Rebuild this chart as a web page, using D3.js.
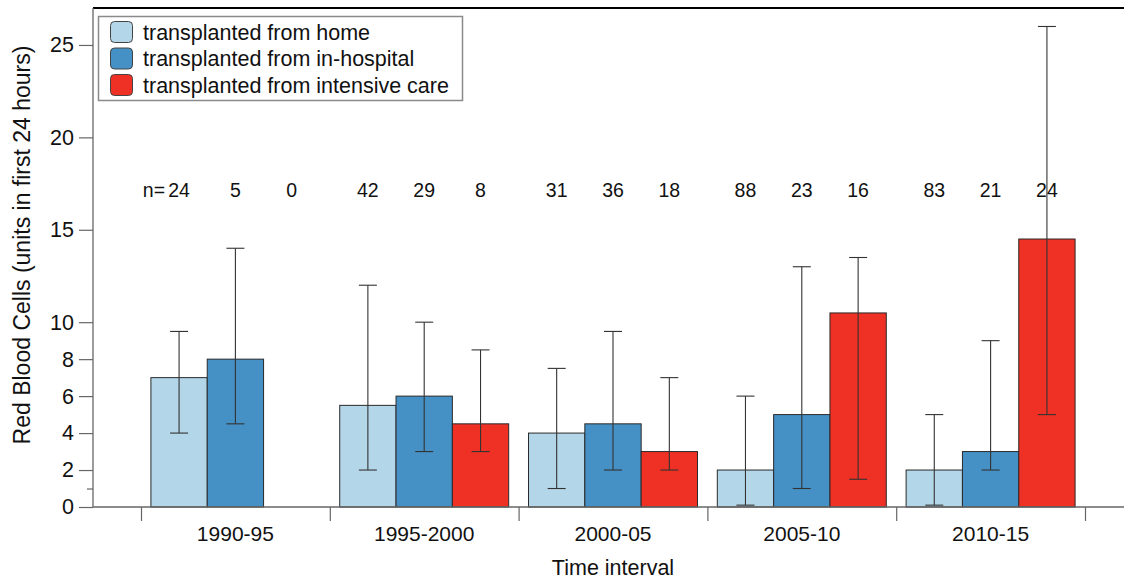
<!DOCTYPE html>
<html>
<head>
<meta charset="utf-8">
<script src="https://cdn.jsdelivr.net/npm/d3@7"></script>
<style>
  html, body { margin: 0; padding: 0; background: #fff; }
  svg { display: block; }
  text { font-family: "Liberation Sans", Arial, Helvetica, sans-serif; fill: #111; }
</style>
</head>
<body>
<svg id="chart" width="1124" height="581"></svg>
<script>
// ---------- data ----------
const intervals = ["1990-95", "1995-2000", "2000-05", "2005-10", "2010-15"];
const seriesNames = ["transplanted from home", "transplanted from in-hospital", "transplanted from intensive care"];
const seriesColors = ["#b3d6e8", "#4590c5", "#ee3124"];
// mean RBC units per series per interval; null = no patients
const homeValues     = [7.0, 5.5, 4.0, 2.0, 2.0];
const hospitalValues = [8.0, 6.0, 4.5, 5.0, 3.0];
const icuValues      = [null, 4.5, 3.0, 10.5, 14.5];
// error bar lower / upper
const homeLow      = [4.0, 2.0, 1.0, 0.1, 0.1];
const homeHigh     = [9.5, 12.0, 7.5, 6.0, 5.0];
const hospitalLow  = [4.5, 3.0, 2.0, 1.0, 2.0];
const hospitalHigh = [14.0, 10.0, 9.5, 13.0, 9.0];
const icuLow       = [null, 3.0, 2.0, 1.5, 5.0];
const icuHigh      = [null, 8.5, 7.0, 13.5, 26.0];
// patient counts
const homeN     = [24, 42, 31, 88, 83];
const hospitalN = [5, 29, 36, 23, 21];
const icuN      = [0, 8, 18, 16, 24];
const yTickValues = [0, 2, 4, 6, 8, 10, 15, 20, 25];
const yMinorTicks = [1];
const yTitle = "Red Blood Cells (units in first 24 hours)";
const xTitle = "Time interval";

const values = [homeValues, hospitalValues, icuValues];
const lows = [homeLow, hospitalLow, icuLow];
const highs = [homeHigh, hospitalHigh, icuHigh];
const counts = [homeN, hospitalN, icuN];

// ---------- layout ----------
const svg = d3.select("#chart");
const plotLeft = 93, plotTop = 8, plotBottom = 507;
const xStart = 141, xEnd = 1085;
const FONT = "'Liberation Sans', Arial, Helvetica, sans-serif";

const y = d3.scaleLinear().domain([0, 27]).range([plotBottom, plotTop]);
const xGroup = d3.scaleBand().domain(intervals).range([xStart, xEnd])
  .paddingInner(0.105).paddingOuter(0.0525);
const xSeries = d3.scaleBand().domain(d3.range(seriesNames.length))
  .range([0, xGroup.bandwidth()]).padding(0);
const xBound = d3.scaleLinear().domain([0, intervals.length]).range([xStart, xEnd]);

const axisColor = "#666";

const records = [];
intervals.forEach((g, gi) => {
  seriesNames.forEach((s, si) => {
    records.push({ g, gi, si, v: values[si][gi], lo: lows[si][gi], hi: highs[si][gi], n: counts[si][gi] });
  });
});

// bars
svg.append("g").selectAll("rect")
  .data(records.filter(d => d.v != null))
  .join("rect")
  .attr("x", d => xGroup(d.g) + xSeries(d.si))
  .attr("y", d => y(d.v))
  .attr("width", xSeries.bandwidth())
  .attr("height", d => y(0) - y(d.v))
  .attr("fill", d => seriesColors[d.si])
  .attr("stroke", "#2a2a2a")
  .attr("stroke-width", 1);

// error bars
const cx = d => xGroup(d.g) + xSeries(d.si) + xSeries.bandwidth() / 2;
const eb = svg.append("g").attr("stroke", "#333").attr("stroke-width", 1.1);
const ebData = records.filter(d => d.lo != null);
eb.selectAll("line.v").data(ebData).join("line").attr("class", "v")
  .attr("x1", cx).attr("x2", cx).attr("y1", d => y(d.lo)).attr("y2", d => y(d.hi));
eb.selectAll("line.t").data(ebData).join("line").attr("class", "t")
  .attr("x1", d => cx(d) - 9).attr("x2", d => cx(d) + 9).attr("y1", d => y(d.hi)).attr("y2", d => y(d.hi));
eb.selectAll("line.b").data(ebData).join("line").attr("class", "b")
  .attr("x1", d => cx(d) - 9).attr("x2", d => cx(d) + 9).attr("y1", d => y(d.lo)).attr("y2", d => y(d.lo));

// n labels
svg.append("g").selectAll("text")
  .data(records)
  .join("text")
  .attr("x", cx)
  .attr("y", 197)
  .attr("text-anchor", "middle")
  .attr("font-size", 19.5)
  .text(d => d.n);
svg.append("text")
  .attr("x", cx(records[0]) - 14)
  .attr("y", 197)
  .attr("text-anchor", "end")
  .attr("font-size", 19.5)
  .text("n=");

// top line
svg.append("line").attr("x1", plotLeft).attr("x2", 1124).attr("y1", plotTop).attr("y2", plotTop)
  .attr("stroke", "#000").attr("stroke-width", 2);

// y axis
const yAxisG = svg.append("g").attr("transform", `translate(${plotLeft},0)`)
  .call(d3.axisLeft(y).tickValues(yTickValues).tickSize(14).tickPadding(5).tickFormat(d3.format("d")));
yAxisG.select(".domain").remove();
yAxisG.selectAll(".tick line").attr("stroke", axisColor).attr("stroke-width", 1.2);
yAxisG.selectAll(".tick text").attr("font-size", 21.5).attr("fill", "#111").attr("font-family", FONT);
const yMinor = svg.append("g").attr("transform", `translate(${plotLeft},0)`)
  .call(d3.axisLeft(y).tickValues(yMinorTicks).tickSize(6).tickFormat(""));
yMinor.select(".domain").remove();
yMinor.selectAll(".tick line").attr("stroke", axisColor).attr("stroke-width", 1.2);
svg.append("line").attr("x1", plotLeft).attr("x2", plotLeft).attr("y1", plotTop).attr("y2", plotBottom)
  .attr("stroke", axisColor).attr("stroke-width", 1.3);

// x axis baseline & boundary ticks
svg.append("line").attr("x1", plotLeft).attr("x2", 1124).attr("y1", plotBottom).attr("y2", plotBottom)
  .attr("stroke", axisColor).attr("stroke-width", 1.3);
const xTicksG = svg.append("g").attr("transform", `translate(0,${plotBottom})`)
  .call(d3.axisBottom(xBound).tickValues(d3.range(intervals.length + 1)).tickSize(14).tickFormat(""));
xTicksG.select(".domain").remove();
xTicksG.selectAll(".tick line").attr("stroke", axisColor).attr("stroke-width", 1.2);
const xLabG = svg.append("g").attr("transform", `translate(0,${plotBottom})`)
  .call(d3.axisBottom(xGroup).tickSize(0).tickPadding(19));
xLabG.select(".domain").remove();
xLabG.selectAll(".tick text").attr("font-size", 21).attr("fill", "#111").attr("font-family", FONT);

// axis titles
svg.append("text").attr("x", (xStart + xEnd) / 2).attr("y", 575)
  .attr("text-anchor", "middle").attr("font-size", 21.5).text(xTitle);
svg.append("text").attr("transform", `translate(30,245) rotate(-90)`)
  .attr("text-anchor", "middle").attr("font-size", 23).text(yTitle);

// legend
const lg = svg.append("g");
lg.append("rect").attr("x", 98.5).attr("y", 16.5).attr("width", 364).attr("height", 84)
  .attr("fill", "#fff").attr("stroke", "#8a8a8a").attr("stroke-width", 1.5);
seriesNames.forEach((s, i) => {
  lg.append("rect").attr("x", 110.5).attr("y", 21.5 + i * 26.5).attr("width", 22).attr("height", 21)
    .attr("rx", 4).attr("fill", seriesColors[i]).attr("stroke", "#444").attr("stroke-width", 1);
  lg.append("text").attr("x", 143).attr("y", 32 + i * 26.5).attr("dy", "0.35em")
    .attr("font-size", 21.5).text(s);
});
</script>
</body>
</html>
